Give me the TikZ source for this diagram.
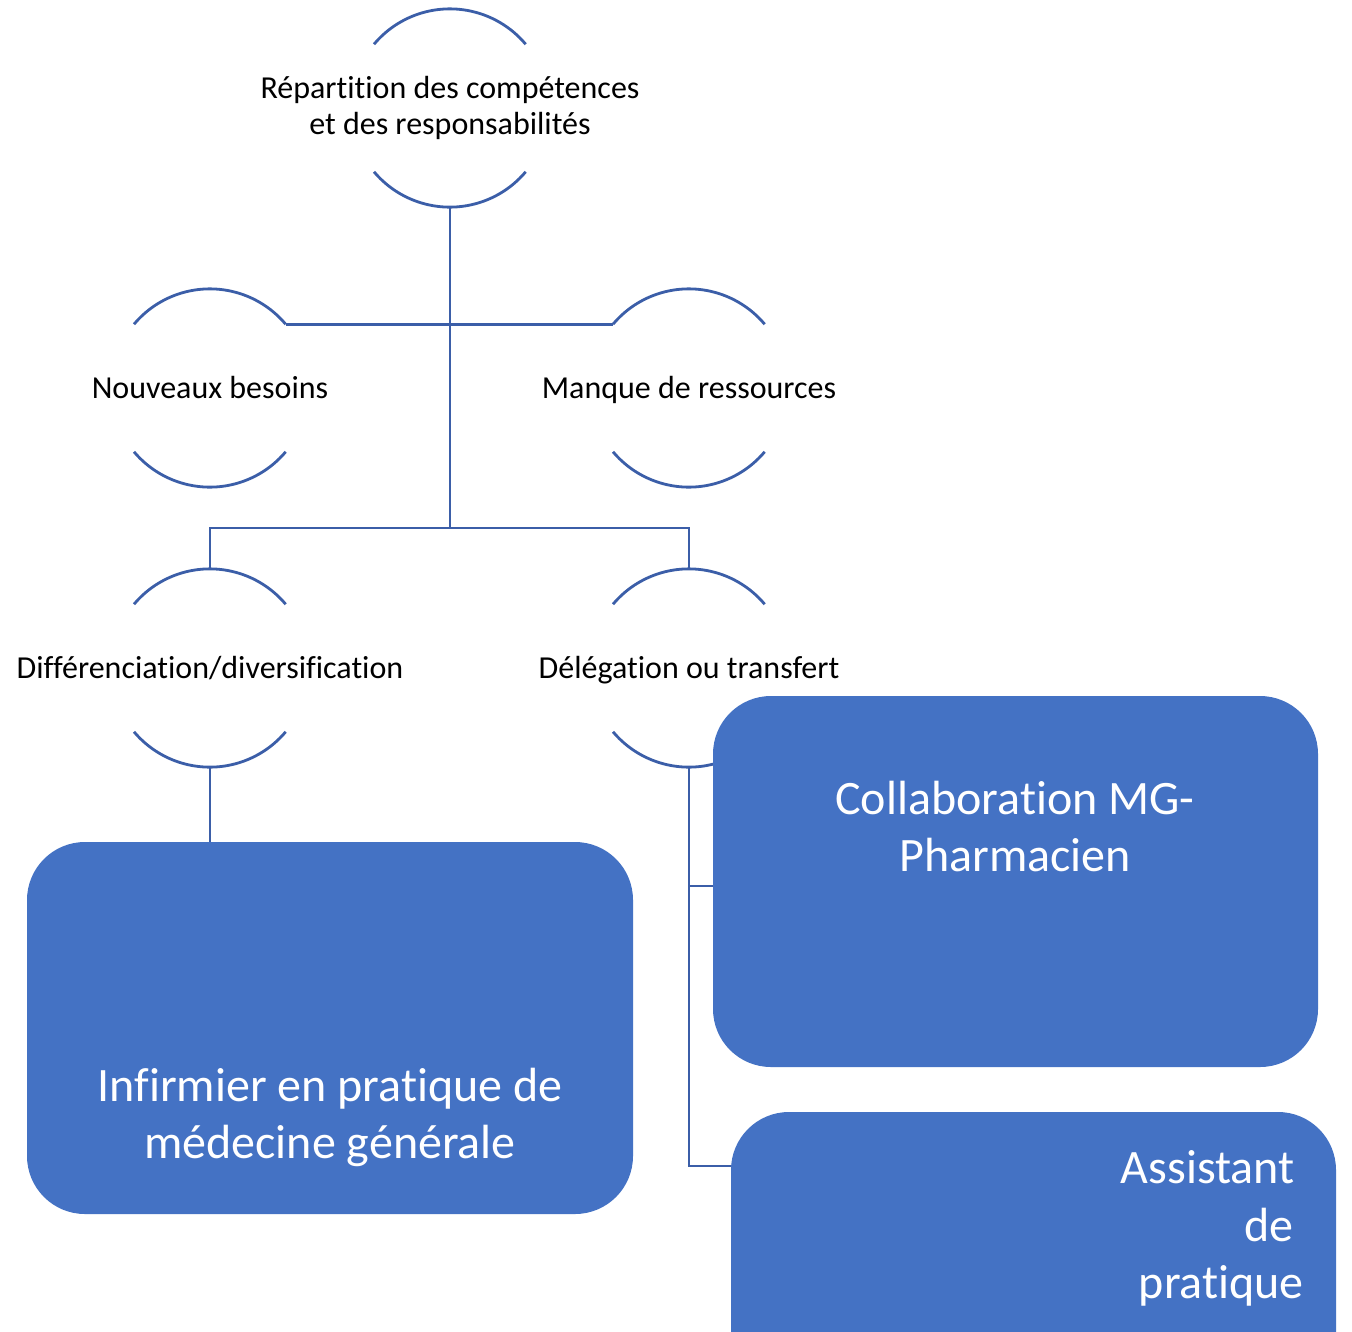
\documentclass[tikz,border=0pt]{standalone}
\usepackage{fontspec}
\setmainfont{Carlito}[Ligatures=NoCommon]
\definecolor{boxblue}{HTML}{4472C4}
\definecolor{linkblue}{HTML}{3B5EA8}
\begin{document}
\begin{tikzpicture}[x=1pt,y=-1pt,
  ring/.style={circle, minimum size=198pt, inner sep=0pt},
  ringtext/.style={font=\fontsize{32}{36}\selectfont, align=center, inner sep=0pt},
  arcs/.style={draw=linkblue, line width=2.8pt},
  link/.style={draw=linkblue, line width=2.8pt},
  card/.style={rounded corners=58pt, fill=boxblue, inner sep=0pt},
  cardtext/.style={text=white, font=\fontsize{48}{57}\selectfont, align=center, inner sep=0pt}]
\clip (0,0) rectangle (1352,1331);
\fill[white] (0,0) rectangle (1352,1331);

% rings: two arcs around each label
\node[ring] (rep) at (450,108) {};
\node[ring] (nb)  at (210,388) {};
\node[ring] (mr)  at (689,388) {};
\node[ring] (dif) at (210,668) {};
\node[ring] (del) at (689,668) {};
\foreach \n in {rep,nb,mr,dif,del}{
  \draw[arcs] (\n.140) arc[start angle=140, end angle=40, radius=99pt];
  \draw[arcs] (\n.220) arc[start angle=220, end angle=320, radius=99pt];
}
\node[ringtext] (rept) at (rep.center) {Répartition des compétences\\et des responsabilités};
\node[ringtext, anchor=base] (nbt)  at ([yshift=-10pt]nb.center)  {Nouveaux besoins};
\node[ringtext, anchor=base] (mrt)  at ([yshift=-10pt]mr.center)  {Manque de ressources};
\node[ringtext, anchor=base] (dift) at ([yshift=-10pt]dif.center) {Différenciation/diversification};
\node[ringtext, anchor=base] (delt) at ([yshift=-10pt]del.center) {Délégation ou transfert};

% cards
\path[card] (27,842) rectangle (633,1214);
\node (inf) at (330,1028) [minimum width=606pt, minimum height=372pt, inner sep=0pt] {};
\path[card] (713,696) rectangle (1318,1067);
\node (col) at (1015.5,881.5) [minimum width=605pt, minimum height=371pt, inner sep=0pt] {};
\path[card] (731,1112) rectangle (1336,1483);
\node (ass) at (1033.5,1297.5) [minimum width=605pt, minimum height=371pt, inner sep=0pt] {};

\node[cardtext] (inft) at (330,1117) {Infirmier en pratique de\\médecine générale};
\node[cardtext] (colt) at (1015,826) {Collaboration MG-\\Pharmacien};
\node[cardtext, anchor=base east] (ass1) at (1295,1183) {Assistant};
\node[cardtext, anchor=base east] (ass2) at (1294,1241) {de};
\node[cardtext, anchor=base east] (ass3) at (1304,1298) {pratique};

% connectors
\coordinate (jn) at (450,528);
\coordinate (a1) at (731,1166);
\coordinate (c1) at (713,886);
\draw[link] (rep.south) -- (jn);
\draw[link] (nb.40) -- (mr.140);
\draw[link] (dif.north) |- (jn) -| (del.north);
\draw[link] (dif.south) -- (dif.south |- inf.north);
\draw[link] (del.south) -- (del.south |- a1) -- (a1);
\draw[link] (del.south |- c1) -- (c1);
\end{tikzpicture}
\end{document}
